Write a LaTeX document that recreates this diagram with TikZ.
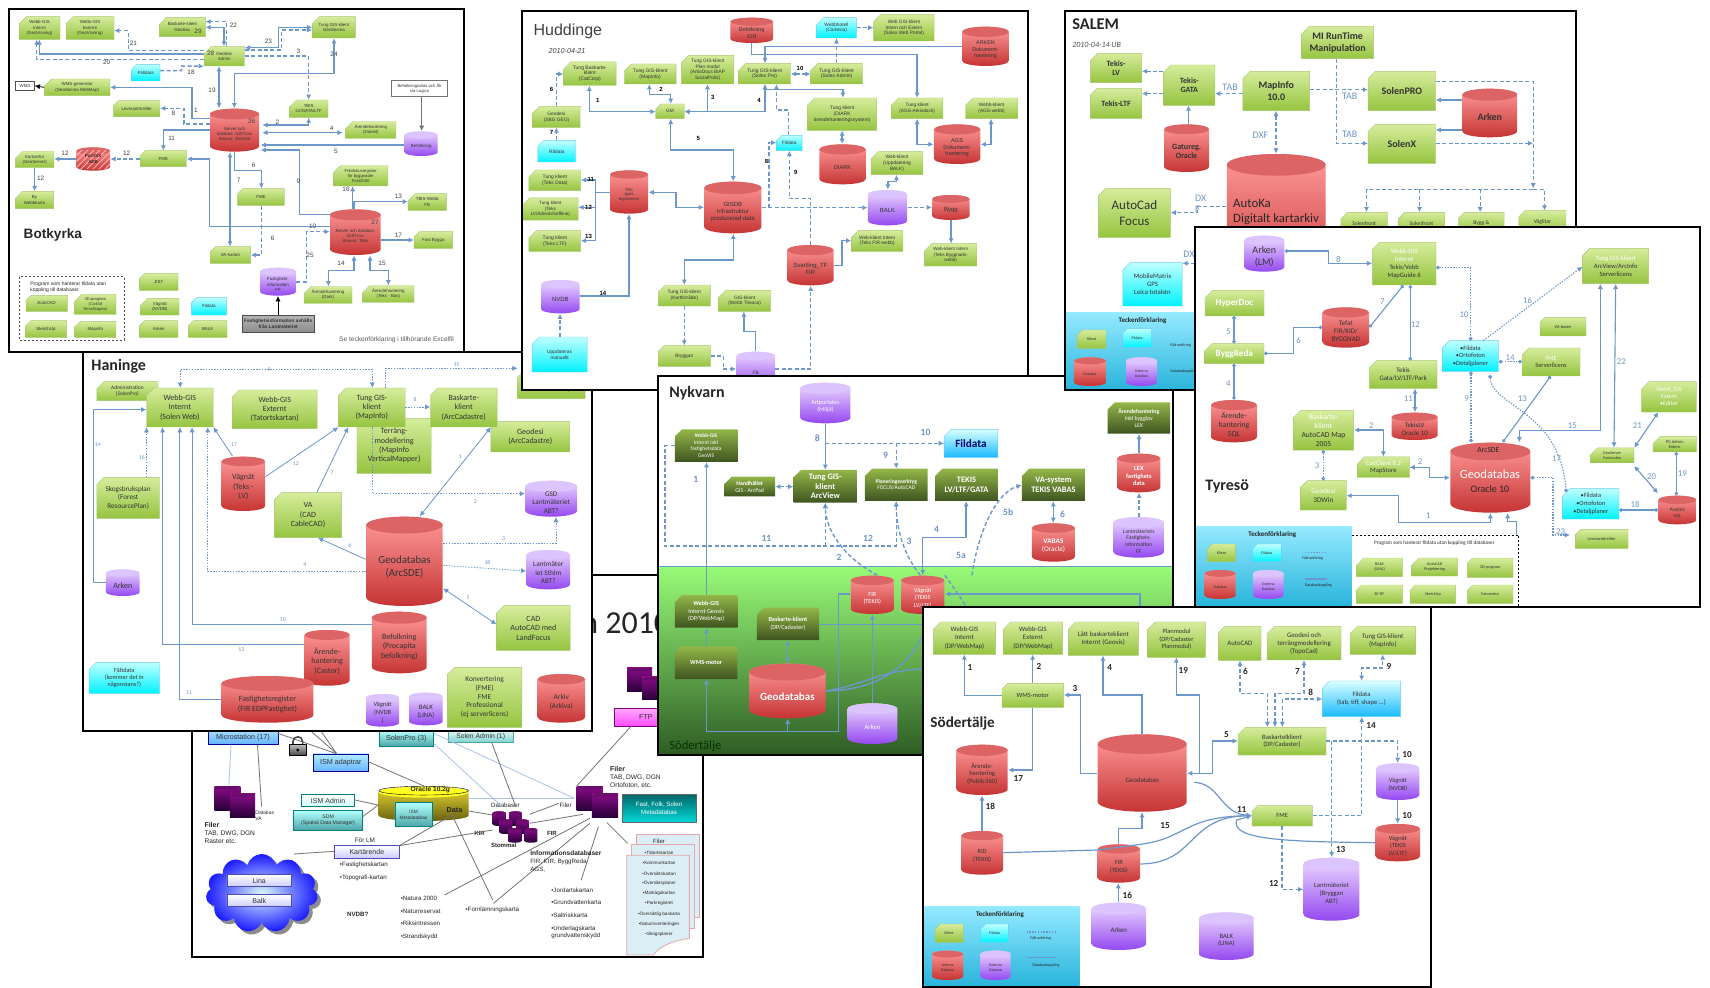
\documentclass[tikz,border=0pt]{standalone}
\usepackage{fontspec}
\setmainfont{Carlito}
\newfontfamily\arial{Liberation Sans}
\usetikzlibrary{shapes.misc,shapes.geometric,shapes.symbols,arrows.meta,patterns}
\definecolor{gtop}{HTML}{D6EC9C}\definecolor{gbot}{HTML}{95C440}\definecolor{gedge}{HTML}{A8C870}
\definecolor{rtop}{HTML}{FF9A9A}\definecolor{rbot}{HTML}{C63434}\definecolor{rcap}{HTML}{DC6464}
\definecolor{ptop}{HTML}{EEDCFF}\definecolor{pbot}{HTML}{9448F0}\definecolor{pcap}{HTML}{DCC4FF}
\definecolor{ytop}{HTML}{E8D830}\definecolor{ybot}{HTML}{6A6010}\definecolor{ycap}{HTML}{FFFF20}
\definecolor{dtop}{HTML}{8A0C8A}\definecolor{dbot}{HTML}{280036}\definecolor{dcap}{HTML}{6A0C6A}
\definecolor{link}{HTML}{6C97CB}\definecolor{numc}{HTML}{6F95C5}
\definecolor{dgtop}{HTML}{94B648}\definecolor{dgbot}{HTML}{3E5420}
\definecolor{lgtop}{HTML}{94EAFF}\definecolor{lgbot}{HTML}{2AB4DC}
\definecolor{nytop}{HTML}{98FB78}\definecolor{nybot}{HTML}{2E5C24}
\definecolor{ltblue}{HTML}{A8C4E8}\definecolor{docf}{HTML}{DCEEF5}\definecolor{doce}{HTML}{E4A8A8}
\newcommand\fs[1]{\fontsize{#1pt}{\the\dimexpr #1pt*118/100\relax}\selectfont}
\newcommand\wh[1]{\textcolor{white}{#1}}
\newcounter{tn}
\def\pf{}\def\cytx{black!80}\def\lw{0.7pt}\def\nfs{3.5}\def\ncol{black}\def\nser{}
\newcommand\pnl[4]{\begin{scope}[shift={(#1*0.5pt,-#2*0.5pt)},x=#3pt,y=-#4pt]\def\kxx{#3}\def\kyy{#4}}
\newcommand\bx[8]{%
 \pgfmathsetmacro\wA{abs(#5-#3)*\kxx}\pgfmathsetmacro\hA{abs(#6-#4)*\kyy}%
 \pgfmathsetmacro\cxA{(#3+#5)/2}\pgfmathsetmacro\cyA{(#4+#6)/2}%
 \node[#1,minimum width=\wA pt,minimum height=\hA pt,font=\pf\fs{#7}] (#2) at (\cxA,\cyA) {#8};}
\newcommand\cyb[5]{%
 \pgfmathsetmacro\rxA{abs(#4-#2)*\kxx/2}%
 \pgfmathsetmacro\ryA{min(\rxA*0.22,abs(#5-#3)*\kyy*.16)}%
 \pgfmathsetmacro\dyA{\ryA/\kyy}%
 \pgfmathsetmacro\ytA{#3+\dyA}\pgfmathsetmacro\ybA{#5-\dyA}%
 \pgfmathsetmacro\cxA{(#2+#4)/2}\pgfmathsetmacro\cyA{(#3+#5)/2}%
 \pgfmathsetmacro\wA{abs(#4-#2)*\kxx}\pgfmathsetmacro\hA{abs(#5-#3)*\kyy}%
 \path[top color=#1top,bottom color=#1bot] (#2,\ytA) -- (#2,\ybA) arc[start angle=180,end angle=360,x radius=\rxA pt,y radius=\ryA pt] -- (#4,\ytA) arc[start angle=0,end angle=180,x radius=\rxA pt,y radius=\ryA pt] -- cycle;
 \path[fill=#1cap] (\cxA,\ytA) ellipse[x radius=\rxA pt,y radius=\ryA pt];}
\newcommand\cy[8]{\cyb{#1}{#3}{#4}{#5}{#6}%
 \node[minimum width=\wA pt,minimum height=\hA pt,inner sep=0pt] (#2) at (\cxA,\cyA) {};%
 \pgfmathsetmacro\ctA{\cyA+\dyA*.7}\stepcounter{tn}%
 \node[inner sep=0pt,align=center,font=\pf\fs{#7},text=\cytx] (t\arabic{tn}) at (\cxA,\ctA) {#8};}
\newcommand\tx[5][center]{\stepcounter{tn}\node[anchor=#1,inner sep=0pt,align=left,font=\pf\fs{#4},text=black!85] (t\arabic{tn}) at (#2,#3) {#5};}
\newcommand\nm[3]{\stepcounter{tn}\node[inner sep=0pt,font=\pf\nser\fs{\nfs},text=\ncol] (t\arabic{tn}) at (#1,#2) {#3};}
\newcommand\srv[4]{\path[top color=dtop,bottom color=dbot] (#1,#2) rectangle (#3,#4);
 \path[fill=dcap] (#1,#2+10) -- (#1+10,#2) -- (#3,#2) -- (#3-10,#2+10) -- cycle;}
\tikzset{
 >={Latex[length=2.6pt,width=2.6pt]},
 base/.style={inner sep=0pt,align=center,draw=gedge,line width=.2pt,text=black!80},
 gbx/.style={base,chamfered rectangle,chamfered rectangle corners=north west,chamfered rectangle sep=1.8pt,top color=gtop,bottom color=gbot},
 cbx/.style={gbx,draw=cyan!60,top color=cyan!25,bottom color=cyan!95!blue},
 bbx/.style={gbx,draw=cyan!60,top color=cyan!15,bottom color=cyan!70!blue!90},
 dgb/.style={gbx,draw=none,top color=dgtop,bottom color=dgbot,text=white},
 wbx/.style={base,rectangle},
 lk/.style={draw=link,line width=\lw},
 ld/.style={lk,dash pattern=on 2pt off 1.2pt},
 lp/.style={lk,dash pattern=on .7pt off .7pt},
 cc/.style={arrows={Circle[length=1.8pt]-Circle[length=1.8pt]}},
 frm/.style={draw=black,line width=1pt},
 ovl/.style={draw=black!55,line width=.4pt},
 ovb/.style={draw=ltblue,line width=.4pt},
 osb/.style={wbx,draw=blue!60!black,top color=blue!25!cyan!30,bottom color=blue!50!cyan!60},
 ost/.style={wbx,draw=teal,top color=cyan!30,bottom color=teal!70},
 osw/.style={wbx,draw=blue!40!gray,top color=white,bottom color=blue!20},
 leg/.style={rectangle,inner sep=0pt,top color=lgtop,bottom color=lgbot},
}
\begin{document}
\begin{tikzpicture}
\useasboundingbox (0,0) rectangle (855pt,-494pt);
\fill[white] (0,0) rectangle (855pt,-494pt);

%% ---------- overview panel (back) ----------
\pnl{180}{700}{0.17219}{0.16667}
\def\pf{\arial}
\filldraw[fill=white,frm] (35,-375) rectangle (1520,770);
\stepcounter{tn}\node[anchor=west,inner sep=0pt,font=\fs{16},text=black!85] (ovtitle) at (1164,-231) {n 2010};
\srv{1298}{-96}{1371}{-24}\srv{1342}{-69}{1400}{0}
\bx{wbx,draw=violet,top color=magenta!35,bottom color=magenta!70}{ovftp}{1262}{26}{1444}{78}{3.6}{FTP}
\bx{osb}{ovms}{82}{80}{284}{133}{3.6}{\raisebox{-5pt}{Microstation (17)}}
\bx{ost}{ovsp}{578}{92}{736}{138}{3.6}{SolenPro (3)}
\bx{wbx,draw=teal!70,top color=white,bottom color=cyan!30!teal!50}{ovsa}{778}{81}{968}{127}{3.4}{\raisebox{-5pt}{Solen Admin (1)}}
\bx{osb}{ovia}{388}{162}{546}{214}{3.6}{ISM adaptrar}
\draw[ovl] (ovms.east |- 0,100) -- (ovia.north -| 455,0);
\draw[ovl] (ovms.north -| 365,0) -- (ovia.north -| 455,0);
\draw[ovl] (ovms.north -| 400,0) -- (ovia.north -| 455,0);
\draw[ovb] (ovms.south -| 148,0) -- (142,255);
\draw[ovl] (ovms.south -| 225,0) -- (237,320);
% lock
\draw[black!70,line width=.8pt] (328,135) -- (328,124) .. controls (328,106) and (356,106) .. (356,124) -- (356,135);
\path[draw=black,top color=black!25,bottom color=black!70] (318,133) rectangle (366,165);
\fill[black] (342,150) circle[radius=5];
\srv{100}{258}{175}{330}\srv{145}{280}{218}{352}
\cy{y}{ovora}{577}{260}{838}{363}{3.4}{}
\draw[black,line width=.2pt] (707.5,272) ellipse[x radius=22.4pt,y radius=2.2pt];
\tx{727}{268}{3.3}{\textbf{Oracle 10.2g}}
\tx{797}{330}{3.6}{\textbf{Data}}
\bx{ost}{ovim}{624}{308}{732}{380}{2.4}{ISM\\Metadatabas}
\bx{wbx,draw=teal,top color=white,bottom color=cyan!20,line width=.4pt}{ovad}{353}{284}{507}{319}{3.5}{ISM Admin}
\bx{ost}{ovsd}{330}{332}{530}{390}{2.6}{SDM\\(Spatial Data Manager)}
\bx{osw}{ovka}{449}{437}{636}{474}{3.5}{Kartärende}
\tx{537}{420}{3.2}{För LM}
\tx{246}{346}{2.5}{Databas\\VA}
\tx[west]{70}{374}{3.5}{\textbf{Filer}}
\tx[west]{70}{412}{3.3}{TAB, DWG, DGN\\Raster etc.}
\draw[ovl] (ovka.west |- 0,454) -- (330,462);
\bx{cloud,cloud puffs=11,aspect=1.4,inner sep=0pt,fill=black!45}{ovcs}{85}{472}{410}{708}{3}{}
\bx{cloud,cloud puffs=11,aspect=1.4,inner sep=0pt,inner color=blue!20!cyan!15,outer color=blue!90}{ovcl}{75}{462}{400}{698}{3}{}
\bx{osw}{ovli}{136}{523}{324}{560}{3.5}{Lina}
\bx{osw}{ovba}{136}{584}{324}{620}{3.5}{Balk}
\tx[west]{463}{496}{3.1}{•Fastighetskartan}
\tx[west]{463}{535}{3.1}{•Topografi-kartan}
\tx[west]{484}{644}{3.1}{\textbf{NVDB?}}
\tx[west]{640}{594}{3.1}{•Natura 2000}
\tx[west]{640}{633}{3.1}{•Naturreservat}
\tx[west]{640}{671}{3.1}{•Riksintressen}
\tx[west]{640}{710}{3.1}{•Strandskydd}
\tx[west]{828}{631}{3.1}{•Fornlämningskarta}
\tx{945}{315}{3.1}{Databaser}
\tx{1120}{315}{3.1}{Filer}
\tx{870}{399}{3}{\textbf{KIR}}
\tx{1080}{399}{3}{\textbf{FIR}}
\tx{940}{435}{3}{\textbf{Stommal}}
\cy{d}{ovd1}{908}{334}{946}{378}{2}{}\cy{d}{ovd2}{955}{334}{993}{378}{2}{}
\cy{d}{ovd3}{927}{358}{965}{402}{2}{}\cy{d}{ovd4}{975}{358}{1013}{402}{2}{}
\cy{d}{ovd5}{953}{384}{991}{428}{2}{}\cy{d}{ovd6}{1000}{384}{1038}{428}{2}{}
\srv{1152}{258}{1228}{330}\srv{1196}{280}{1272}{352}
\draw[ovl] (ovora.north -| 710,0) -- (ovia.east |- 0,185);
\draw[ovl] (ovad.east |- 0,300) -- (ovora.west |- 0,315);
\draw[ovl] (ovsd.east |- 0,350) -- (ovora.west |- 0,315);
\draw[ovb] (ovora.east |- 0,295) -- (1145,295);
\draw[ovb] (ovsp.east |- 0,100) -- (1145,295);
\draw[ovb] (ovsp.east |- 0,130) -- (935,320);
\draw[ovl] (ovsa.south -| 905,0) -- (975,320);
\draw[ovl] (ovora.east |- 0,333) -- (ovd1.west |- 0,345);
\draw[ovl] (1015,343) -- (1100,310);
\draw[ovl] (1015,370) -- (1170,343);
\draw[ovl] (1152,258) -- (ovftp.south -| 1310,0);
\draw[ovl] (ovka.east |- 0,437) -- (908,390);
\draw[ovl] (ovka.east |- 0,437) -- (790,345) -- (908,600);
\draw[ovl] (1190,355) -- (768,585);
\draw[ovl] (910,610) -- (1190,370);
\draw[ovl] (1215,380) -- (1165,540);
\draw[ovl] (1240,368) -- (1300,430);
\tx[west]{1016}{459}{3.3}{\textbf{Informationsdatabaser}}
\tx[west]{1016}{497}{3.1}{FIR, KIR, ByggReda\\AGS,}
\tx[west]{1077}{570}{3.1}{•Jordartskartan}
\tx[west]{1077}{608}{3.1}{•Grundvattenkarta}
\tx[west]{1077}{647}{3.1}{•Saltriskkarta}
\tx[west]{1077}{698}{3.1}{•Underlagskarta\\grundvattenskydd}
\tx[west]{1248}{207}{3.5}{\textbf{Filer}}
\tx[west]{1248}{245}{3.3}{TAB, DWG, DGN\\Ortofoton, etc.}
\bx{wbx,draw=black!60,top color=teal!80!black,bottom color=cyan!70!teal}{ovfp}{1284}{282}{1498}{367}{3.1}{\wh{Fast, Folk, Solen}\\\wh{Metadatabas}}
\filldraw[fill=docf,draw=doce] (1325,403) rectangle (1507,652);
\filldraw[fill=docf,draw=doce] (1311,433) rectangle (1493,685);
\filldraw[fill=docf,draw=doce] (1297,466) -- (1479,466) -- (1479,715) .. controls (1430,722) and (1390,740) .. (1375,765) -- (1297,765) -- cycle;
\tx{1391}{424}{3}{Filer}
\tx{1391}{460}{2.3}{•Tätortskartan}
\tx{1391}{490}{2.3}{•Kommunkartan}
\tx{1391}{520}{2.3}{•Översiktskartan}
\tx{1391}{550}{2.3}{•Översiktsplaner}
\tx{1391}{581}{2.3}{•Markägokartan}
\tx{1391}{611}{2.3}{•Parkregistret}
\tx{1391}{642}{2.3}{•Översiktlig baskarta}
\tx{1391}{672}{2.3}{•Naturinventeringen}
\tx{1391}{703}{2.3}{•Skogsplaner}
\draw[frm] (35,-375) rectangle (1520,770);
\def\pf{}
\end{scope}

%% ---------- Haninge ----------
\pnl{70}{340}{0.19133}{0.16667}
\def\lw{.4pt}\def\nfs{2.9}\def\ncol{numc}
\filldraw[fill=white,frm] (35,37) rectangle (1365,1172);
\tx[west]{55}{80}{8}{\textbf{Haninge}}
\bx{gbx}{ha1a}{1170}{90}{1346}{176}{3.5}{\raisebox{-8pt}{1 användare)}}
\bx{gbx}{ha01}{70}{125}{230}{182}{2.7}{Administration\\(SolenPro)}
\bx{gbx}{ha02}{200}{144}{374}{261}{4}{Webb-GIS\\Internt\\(Solen Web)}
\bx{gbx}{ha03}{424}{150}{646}{266}{4}{Webb-GIS\\Externt\\(Tatortskartan)}
\bx{gbx}{ha05}{750}{235}{944}{400}{4}{Terräng-\\modellering\\(MapInfo\\VerticalMapper)}
\bx{gbx}{ha04}{702}{144}{876}{261}{4}{Tung GIS-\\klient\\(MapInfo)}
\bx{gbx}{ha07}{1100}{244}{1306}{336}{4}{Geodesi\\(ArcCadastre)}
\bx{gbx}{ha06}{942}{144}{1116}{261}{4}{Baskarte-\\klient\\(ArcCadastre)}
\bx{gbx}{ha08}{70}{412}{234}{535}{3.6}{Skogsbruksplan\\(Forest\\ResourcePlan)}
\bx{gbx}{ha09}{534}{458}{710}{593}{4}{VA\\(CAD\\CableCAD)}
\cy{r}{ha10}{396}{350}{510}{513}{4}{Vägnät\\(Teks -\\LV)}
\cy{r}{ha11}{774}{530}{974}{798}{5.4}{Geodatabas\\(ArcSDE)}
\cy{p}{ha12}{1190}{422}{1325}{530}{3.6}{GSD\\Lantmäteriet\\ABT?}
\cy{p}{ha13}{1193}{630}{1307}{748}{3.6}{Lantmäter\\iet Sthlm\\ABT?}
\cy{p}{ha14}{94}{688}{182}{768}{4}{Arken}
\bx{gbx}{ha15}{1115}{797}{1307}{931}{4}{CAD\\AutoCAD med\\LandFocus}
\cy{r}{ha16}{789}{815}{932}{1000}{4}{Befolkning\\(Procapita\\befolkning)}
\cy{r}{ha17}{613}{870}{731}{1037}{4}{Ärende-\\hantering\\(Castor)}
\bx{cbx}{ha18}{50}{967}{234}{1060}{3.1}{Fältdata\\(kommer det in\\någonstans?)}
\cy{r}{ha19}{396}{1008}{636}{1148}{4}{Fastighetsregister\\(FIR EDPFastighet)}
\cy{p}{ha20}{774}{1062}{860}{1160}{3.2}{Vägnät\\(NVDB\\)}
\cy{p}{ha21}{886}{1058}{974}{1156}{3.4}{BALK\\(LINA)}
\bx{gbx}{ha22}{986}{982}{1181}{1162}{3.7}{Konvertering\\(FME)\\FME\\Professional\\(ej serverlicens)}
\cy{r}{ha23}{1222}{1002}{1346}{1148}{3.7}{Arkiv\\(Arkiva)}
\draw[lp,<->] (ha02.north -| 288,0) -- (288,88) -- (790,88) -- (ha04.north -| 790,0);
\draw[lp,->] (ha04.north -| 824,0) -- (824,85) -- (ha1a.west |- 0,85);
\draw[lp,->] (ha04.east |- 0,201) -- (ha06.west |- 0,201);
\draw[lk,->] (ha14.west |- 0,727) -- (60,727) -- (60,209) -- (ha02.west |- 0,209);
\draw[lp,->] (ha08.north -| 200,0) -- (ha02.south -| 200,0);
\draw[lk,->] (ha17.west |- 0,912) -- (242,912) -- (ha02.south -| 242,0);
\draw[lk,->] (ha19.west |- 0,1078) -- (287,1078) -- (ha02.south -| 287,0);
\draw[lk,->] (ha16.west |- 0,853) -- (319,853) -- (ha02.south -| 319,0);
\draw[lp,->] (ha11.west |- 0,694) -- (360,694) -- (ha02.south -| 360,0);
\draw[lk,->] (ha10.north -| 425,0) -- (ha02.south east);
\draw[lk,->] (ha10.east |- 0,410) -- (ha04.south west);
\draw[lk,->] (ha09.north -| 645,0) -- (ha04.south -| 727,0);
\draw[lk,<->] (ha11.north -| 914,0) -- (ha06.south -| 1100,0);
\draw[lp,->] (ha04.south -| 790,0) -- (790,461) -- (ha12.west |- 0,461);
\draw[lp,->] (ha11.east |- 0,610) -- (1270,610) -- (ha12.south -| 1270,0);
\draw[lp,->] (ha11.east |- 0,676) -- (ha13.west |- 0,693);
\draw[lk,->] (ha11.west |- 0,658) -- (ha09.south -| 648,0);
\draw[lk,<->] (ha11.east |- 0,745) -- (ha15.west |- 0,853);
\nm{520}{88}{9}\nm{1010}{73}{15}\nm{902}{178}{8}\nm{73}{315}{14}\nm{188}{353}{16}\nm{448}{929}{13}\nm{311}{1057}{11}\nm{556}{838}{10}\nm{614}{673}{4}\nm{429}{315}{17}\nm{590}{370}{12}\nm{684}{397}{7}\nm{1020}{350}{1}\nm{1059}{484}{2}\nm{1133}{597}{3}\nm{1091}{667}{18}\nm{731}{617}{6}\nm{1040}{773}{5}
\draw[frm] (35,37) rectangle (1365,1172);
\end{scope}

%% ---------- Botkyrka ----------
\pnl{0}{0}{0.16667}{0.16667}
\def\pf{\arial}\def\lw{.75pt}\def\nfs{3.2}\def\ncol{black!75}
\filldraw[fill=white,frm] (27,28) rectangle (1393,1055);
\tx[west]{70}{705}{6.8}{\textbf{Botkyrka}}
\tx[east]{1363}{1018}{3.3}{\textcolor{black!65}{Se teckenförklaring i tillhörande Excelfil}}
\bx{gbx}{bk01}{57}{50}{180}{118}{2.2}{Webb-GIS\\Internt\\(GeoVisning)}
\bx{gbx}{bk02}{198}{50}{342}{118}{2.2}{Webb-GIS\\Externt\\(GeoVisning)}
\bx{gbx}{bk03}{478}{52}{616}{110}{2.2}{Baskarte-klient\\GeoSec}
\bx{gbx}{bk04}{937}{50}{1066}{114}{2.2}{Tung GIS-klient\\GeoSecma}
\bx{gbx}{bk05}{612}{140}{734}{198}{2.2}{GeoSec\\Admin}
\bx{cbx}{bk06}{395}{193}{480}{243}{2.2}{Fältdata}
\bx{gbx}{bk07}{133}{237}{330}{287}{2.2}{WMS-generator\\(GeoSecma WebMap)}
\bx{wbx,draw=black!70,line width=.4pt,fill=white}{bk08}{47}{243}{103}{272}{2.2}{WMS}
\bx{gbx}{bk09}{340}{302}{480}{350}{2.2}{Leverantörsfiler}
\bx{gbx}{bk10}{868}{300}{984}{352}{2.2}{TBIS\\LV/GATA/LTF}
\bx{gbx}{bk11}{1037}{365}{1188}{415}{2.2}{Ärendehantering\\(Daniel)}
\bx{wbx,draw=black!55,line width=.5pt,fill=white}{bk12}{1175}{241}{1342}{290}{2.1}{Befolkningsdata och Åk\\via Logica}
\cy{p}{bk13}{1214}{394}{1313}{468}{2.2}{Befolkning}
\cy{r}{bk14}{630}{326}{777}{455}{2.2}{Server och\\databas: GISTxxx\\Ansvar: ÄxxGIS}
\bx{gbx}{bk15}{420}{452}{560}{500}{2.2}{FME}
\cyb{r}{229}{442}{330}{512}
\path[pattern=north east lines,pattern color=white!70!red] (229,452) rectangle (330,505);
\node[minimum width=\wA pt,minimum height=\hA pt,inner sep=0pt,align=center,font=\pf\fs{2.2}] (bk16) at (\cxA,\cyA) {PostGIS\\ADB};
\bx{gbx}{bk17}{46}{455}{162}{502}{2.2}{Kartserfor\\(GeoServer)}
\bx{gbx}{bk18}{46}{574}{161}{626}{2.2}{By\\Webbkarta}
\bx{gbx}{bk19}{713}{566}{853}{616}{2.2}{FME}
\bx{gbx}{bk20}{631}{740}{752}{790}{2.2}{VA-kartan}
\bx{gbx}{bk21}{1000}{500}{1164}{555}{2.1}{Fritidshusregister\\för byggnader\\Fast2000}
\bx{gbx}{bk22}{1224}{581}{1339}{631}{2.2}{TBIS-Webb\\FB}
\cy{r}{bk23}{990}{628}{1142}{765}{2.2}{Server och databas:\\GISTxxx\\Ansvar: Teks}
\bx{gbx}{bk24}{1242}{695}{1358}{745}{2.2}{Fast Bygga}
\cy{p}{bk25}{780}{803}{888}{887}{2.2}{Fastighets-\\information\\FF}
\bx{gbx}{bk26}{912}{860}{1056}{910}{2.2}{Ärendehantering\\(Dark)}
\bx{gbx}{bk27}{1088}{857}{1242}{907}{2.2}{Ärendehantering\\(Teks - Bas)}
\bx{wbx,draw=black!70,line width=.4pt,top color=black!30,bottom color=black!45}{bk28}{727}{947}{942}{996}{2.4}{\textbf{Fastighetsinformation avhålls}\\\textbf{från Lantmäteriet}}
\draw[black!70,line width=.3pt,dash pattern=on 1pt off 1pt] (58,830) rectangle (372,1020);
\tx[west]{90}{861}{2.5}{Program som hanterar fildata utan\\koppling till databaser}
\bx{gbx}{bk29}{78}{886}{202}{934}{2.2}{AutoCAD}
\bx{gbx}{bk30}{224}{886}{348}{940}{2}{3D-program\\(Civil3d\\TerraScapes)}
\bx{gbx}{bk31}{76}{962}{200}{1012}{2.2}{SketchUp}
\bx{gbx}{bk32}{224}{964}{348}{1012}{2.2}{Mapinfo}
\bx{gbx}{bk33}{418}{821}{534}{871}{2.2}{JIST}
\bx{gbx}{bk34}{422}{895}{537}{945}{2.2}{Vägnät\\(NVDB)}
\bx{cbx}{bk35}{574}{893}{680}{945}{2.2}{Fildata}
\bx{gbx}{bk36}{418}{962}{534}{1012}{2.2}{Arken}
\bx{gbx}{bk37}{565}{962}{681}{1012}{2.2}{BALK}
\draw[lk,->] (bk05.west |- 0,162) -- (118,162) -- (bk01.south -| 118,0);
\draw[ld,->] (bk05.west |- 0,178) -- (110,178) -- (bk01.south -| 110,0);
\draw[ld,->] (bk05.west |- 0,152) -- (385,152) -- (385,92) -- (bk02.east |- 0,92);
\draw[lk,<->] (bk05.north -| 672,0) -- (672,82) -- (bk03.east |- 0,82);
\draw[ld,->] (bk05.north -| 680,0) -- (680,65) -- (bk03.east |- 0,65);
\draw[lk,<->] (bk05.east |- 0,143) -- (835,143) -- (835,82) -- (bk04.west |- 0,82);
\draw[ld,->] (bk05.east |- 0,150) -- (845,150) -- (845,90) -- (bk04.west |- 0,90);
\draw[ld,->] (bk05.east |- 0,168) -- (926,168) -- (bk10.north -| 926,0);
\draw[ld,->] (bk06.east |- 0,212) -- (545,212) -- (545,198) -- (bk05.south west);
\draw[lk,<->] (bk14.north -| 657,0) -- (bk05.south -| 657,0);
\draw[lk,<->] (bk14.north -| 703,0) -- (703,220) -- (1002,220) -- (bk04.south -| 1002,0);
\draw[lk,->] (bk14.west |- 0,356) -- (576,356) -- (576,262) -- (bk07.east |- 0,262);
\draw[ld,->] (bk14.west |- 0,372) -- (552,372) -- (552,325) -- (bk09.east |- 0,325);
\draw[black,line width=.4pt,->] (bk07.west) -- (bk08.east);
\draw[lk,<->] (787,375) -- (926,375) -- (bk10.south -| 926,0);
\draw[lk,<->] (787,398) -- (1028,398);
\draw[lk,->] (bk13.west |- 0,435) -- (782,435);
\draw[black!55,line width=.5pt,->] (bk12.south -| 1265,0) -- (bk13.north -| 1265,0);
\draw[lk,->] (bk14.west |- 0,390) -- (490,390) -- (bk15.north -| 490,0);
\draw[ld,->] (bk15.west |- 0,477) -- (bk16.east |- 0,477);
\draw[lk,->] (bk16.west |- 0,477) -- (bk17.east |- 0,477);
\draw[lk,->] (bk17.south -| 104,0) -- (bk18.north -| 104,0);
\draw[lk,->] (bk14.south -| 703,0) -- (703,512) -- (784,512) -- (bk19.north -| 784,0);
\draw[lk,<->] (bk14.south -| 690,0) -- (bk20.north -| 690,0);
\draw[ld,->] (bk19.south -| 784,0) -- (784,765) -- (bk20.east |- 0,765);
\draw[lk,->] (bk23.west |- 0,680) -- (628,680) -- (628,477) -- (bk15.east |- 0,477);
\draw[lk,->] (bk23.west |- 0,643) -- (899,643) -- (899,450) -- (782,450);
\draw[lk,->] (bk23.north -| 1062,0) -- (1062,605) -- (bk22.west |- 0,605);
\draw[lk,->] (bk23.north -| 1058,0) -- (bk21.south -| 1058,0);
\draw[lk,->] (bk23.east |- 0,720) -- (bk24.west |- 0,720);
\draw[ld,->] (bk25.east |- 0,846) -- (920,846) -- (920,695) -- (bk23.west |- 0,695);
\draw[lk,<->] (bk26.north -| 985,0) -- (985,812) -- (1062,812) -- (bk23.south -| 1062,0);
\draw[lk,<->] (bk27.north -| 1165,0) -- (1165,812) -- (1110,812) -- (bk23.south -| 1110,0);
\draw[black,line width=.4pt,->] (bk28.north -| 834,0) -- (bk25.south -| 834,0);
\nm{400}{131}{21}\nm{700}{76}{22}\nm{805}{125}{23}\nm{895}{155}{3}\nm{320}{188}{20}\nm{573}{217}{18}\nm{636}{271}{19}\nm{1002}{162}{24}\nm{588}{331}{1}\nm{520}{341}{8}\nm{832}{366}{2}\nm{995}{385}{4}\nm{1008}{453}{5}\nm{515}{414}{11}\nm{195}{461}{12}\nm{380}{461}{12}\nm{122}{535}{12}\nm{761}{496}{6}\nm{716}{540}{7}\nm{818}{715}{6}\nm{938}{680}{10}\nm{895}{545}{9}\nm{1195}{589}{13}\nm{1038}{569}{16}\nm{1195}{705}{17}\nm{930}{765}{25}\nm{1023}{789}{14}\nm{1146}{789}{15}\nm{755}{365}{26}\nm{1125}{668}{27}\nm{632}{160}{28}\nm{594}{95}{29}
\draw[frm] (27,28) rectangle (1393,1055);
\def\pf{}
\end{scope}

%% ---------- Huddinge ----------
\pnl{510}{0}{0.17857}{0.16667}
\def\pf{\arial}\def\lw{.7pt}\def\nfs{3}\def\ncol{black}\def\nser{\bfseries}
\filldraw[fill=white,frm] (33,32) rectangle (1450,1170);
\tx[west]{65}{95}{8}{\textcolor{black!75}{Huddinge}}
\tx[west]{107}{152}{3.6}{\textcolor{black!75}{\itshape 2010-04-21}}
\bx{gbx}{hu01}{150}{190}{297}{252}{2.5}{Tung Baskarte-\\klient\\(CatCorp)}
\bx{gbx}{hu02}{320}{192}{465}{252}{2.5}{Tung GIS-klient\\(MapInfo)}
\bx{gbx}{hu03}{480}{166}{627}{252}{2.4}{Tung GIS-klient\\Plan modul\\(ArtioDocs BIAP\\SocialPolis)}
\bx{gbx}{hu04}{640}{190}{786}{252}{2.5}{Tung GIS-klient\\(Solex Pro)}
\bx{gbx}{hu05}{842}{190}{987}{252}{2.5}{Tung GIS-klient\\(Solex Admin)}
\bx{gbx}{hu06}{1018}{44}{1188}{123}{2.4}{Web GIS-klient\\Intern och Extern\\(Solex Web Portal)}
\bx{cbx}{hu07}{858}{53}{970}{114}{2.4}{Webbhotell\\(Cartesia)}
\cy{r}{hu08}{617}{53}{737}{129}{2.7}{Befolkning\\IGR}
\cy{r}{hu09}{1266}{80}{1397}{198}{2.7}{ARKEN\\Dokument-\\hantering}
\bx{gbx}{hu10}{62}{320}{198}{382}{2.4}{Geodesi\\(SBG GEO)}
\bx{cbx}{hu11}{78}{422}{184}{486}{2.4}{Rådata}
\bx{gbx}{hu12}{408}{312}{488}{356}{2.4}{GM}
\bx{gbx}{hu13}{833}{294}{1027}{391}{2.5}{Tung klient\\(DIARK\\ärendehanteringssystem)}
\bx{gbx}{hu14}{1068}{294}{1212}{356}{2.4}{Tung klient\\(AGS-Arkivdock)}
\bx{gbx}{hu15}{1276}{294}{1421}{356}{2.4}{Webb-klient\\(AGS-webb)}
\bx{cbx}{hu16}{746}{406}{818}{452}{2.4}{Fildata}
\cy{r}{hu17}{866}{433}{996}{553}{2.8}{DIARK}
\cy{r}{hu18}{1187}{373}{1317}{492}{2.8}{AGS\\Dokument-\\hantering}
\bx{gbx}{hu19}{1011}{458}{1156}{521}{2.4}{Web-klient\\(Uppdatering\\BALK)}
\bx{gbx}{hu20}{53}{510}{198}{572}{2.5}{Tung klient\\(Teks Data)}
\bx{gbx}{hu21}{35}{596}{191}{658}{2.3}{Tung klient\\(Teks\\LV/Adresb/Soffline)}
\bx{gbx}{hu22}{53}{692}{198}{754}{2.5}{Tung klient\\(Teks LTF)}
\cy{r}{hu23}{280}{511}{387}{641}{2}{TEK\\(gata\\registreren)}
\cy{r}{hu24}{544}{545}{704}{700}{3}{GISDB\\Infrastruktur\\producerad data}
\cy{p}{hu25}{1002}{570}{1112}{676}{3}{BALK}
\cy{r}{hu26}{1182}{585}{1287}{660}{3}{Bygg}
\bx{gbx}{hu27}{956}{691}{1100}{754}{2.4}{Web-klient Intern\\(Teks FIR-webb)}
\cy{r}{hu28}{776}{735}{906}{856}{3}{Svartling\_TF\\FIR}
\bx{gbx}{hu29}{1161}{733}{1307}{796}{2.3}{Web-klient Intern\\(Teks Byggnads-\\webb)}
\cy{p}{hu30}{87}{840}{195}{940}{3}{NVDB}
\bx{cbx}{hu31}{62}{1011}{216}{1116}{2.4}{Uppdateras\\manuellt}
\bx{gbx}{hu32}{415}{855}{561}{918}{2.4}{Tung GIS-klient\\(Kartförråde)}
\bx{gbx}{hu33}{584}{871}{730}{934}{2.4}{GIS-klient\\(Webb Trisoca)}
\bx{gbx}{hu34}{415}{1037}{561}{1099}{2.4}{Bryggan}
\cy{p}{hu35}{634}{1055}{742}{1165}{2.4}{FB}
\draw[lk,<->] (hu01.south -| 222,0) -- (222,335) -- (hu12.west |- 0,335);
\draw[lk,<->] (hu02.south -| 390,0) -- (390,283) -- (450,283) -- (hu12.north -| 450,0);
\draw[lk,<->] (hu03.south -| 553,0) -- (553,335) -- (hu12.east |- 0,335);
\draw[lk,<->] (hu04.south -| 714,0) -- (714,335) -- (hu12.east |- 0,335);
\draw[lk,<->] (hu12.south -| 450,0) -- (450,450) -- (625,450) -- (hu24.north -| 625,0);
\draw[lk,<->] (hu04.south -| 714,0) -- (714,268) -- (932,268) -- (hu13.north -| 932,0);
\draw[ld,->] (hu16.north -| 780,0) -- (780,330) -- (746,330) -- (hu04.south -| 746,0);
\draw[ld,<->] (hu04.east |- 0,222) -- (hu05.west |- 0,222);
\draw[ld,->] (hu05.north -| 914,0) -- (hu07.south -| 914,0);
\draw[ld,->] (hu07.east |- 0,83) -- (hu06.west |- 0,83);
\draw[lk,->] (hu08.south -| 677,0) -- (677,163) -- (1140,163) -- (hu14.north -| 1140,0);
\draw[lk,->] (hu09.west |- 0,140) -- (714,140) -- (hu04.north -| 714,0);
\draw[ld,->] (hu10.north -| 130,0) -- (130,222) -- (hu01.west |- 0,222);
\draw[ld,->] (hu11.north -| 130,0) -- (hu10.south -| 130,0);
\draw[lk,<->] (hu13.south -| 930,0) -- (hu17.north -| 930,0);
\draw[lk,<->] (hu14.south -| 1140,0) -- (1140,433) -- (hu18.west |- 0,433);
\draw[lk,<->] (hu15.south -| 1347,0) -- (1347,433) -- (hu18.east |- 0,433);
\draw[lk,<->] (hu25.north -| 1058,0) -- (1058,545) -- (1082,545) -- (hu19.south -| 1082,0);
\draw[ld,->] (hu24.east |- 0,623) -- (hu25.west |- 0,623);
\draw[ld,->] (725,623) -- (725,428) -- (hu16.west |- 0,428);
\draw[ld,->] (hu28.north -| 842,0) -- (842,595) -- (782,595) -- (hu16.south -| 782,0);
\draw[ld,->] (hu25.east |- 0,622) -- (hu26.west |- 0,622);
\draw[lk,->] (hu26.south -| 1235,0) -- (hu29.north -| 1235,0);
\draw[lk,->] (hu28.east |- 0,796) -- (930,796) -- (930,722) -- (hu27.west |- 0,722);
\draw[lk,<->] (hu24.west |- 0,622) -- (465,622) -- (465,577) -- (hu23.east |- 0,577);
\draw[lk,->] (hu23.west |- 0,577) -- (240,577) -- (240,540) -- (hu20.east |- 0,540);
\draw[lk,->] (hu23.west |- 0,577) -- (240,577) -- (240,622) -- (hu21.east |- 0,622);
\draw[lk,->] (hu23.west |- 0,577) -- (240,577) -- (240,722) -- (hu22.east |- 0,722);
\draw[lk,->] (hu30.east |- 0,888) -- (333,888) -- (hu23.south -| 333,0);
\draw[ld,->] (hu31.north -| 140,0) -- (hu30.south -| 140,0);
\draw[lk,<->] (hu24.south -| 625,0) -- (625,780) -- (488,780) -- (hu32.north -| 488,0);
\draw[ld,->] (hu32.south -| 488,0) -- (hu34.north -| 488,0);
\draw[ld,->] (hu34.east |- 0,1068) -- (597,1068) -- (597,1107) -- (hu35.west |- 0,1107);
\draw[lk,->] (hu35.north -| 688,0) -- (688,995) -- (655,995) -- (hu33.south -| 655,0);
\draw[ld,->] (hu35.east |- 0,1107) -- (842,1107) -- (hu28.south -| 842,0);
\nm{246}{302}{1}\nm{423}{267}{2}\nm{568}{292}{3}\nm{697}{302}{4}\nm{527}{415}{5}\nm{812}{205}{10}\nm{116}{267}{6}\nm{116}{397}{7}\nm{718}{483}{8}\nm{800}{517}{9}\nm{226}{537}{11}\nm{220}{622}{12}\nm{220}{708}{13}\nm{260}{880}{14}
\draw[frm] (33,32) rectangle (1450,1170);
\def\pf{}\def\nser{}
\end{scope}

%% ---------- Nykvarn ----------
\pnl{650}{370}{0.17219}{0.16667}
\def\lw{.7pt}\def\nfs{4.8}\def\ncol{numc}\def\nser{\bfseries}
\filldraw[fill=white,frm] (22,17) rectangle (1518,1155);
\path[top color=nytop,bottom color=nybot,draw=link,line width=.4pt] (22,590) rectangle (1518,1155);
\tx[west]{55}{70}{8}{\textbf{Nykvarn}}
\tx[west]{55}{1128}{6.3}{\textcolor{black!80!green}{Södertälje}}
\bx{dgb}{ny01}{72}{178}{254}{276}{2.7}{\textbf{Webb-GIS}\\Internt inkl\\fastighetsdata\\GeoVIS}
\bx{dgb}{ny02}{216}{320}{363}{379}{2.9}{\textbf{Handhållet}\\GIS - ArcPad}
\bx{dgb}{ny03}{417}{300}{601}{398}{4.2}{\textbf{Tung GIS-}\\\textbf{klient}\\\textbf{ArcView}}
\bx{dgb}{ny04}{624}{296}{806}{393}{2.8}{\textbf{Planeringsverktyg}\\FOCUS/AutoCAD}
\bx{dgb}{ny05}{828}{296}{1010}{393}{4.2}{\textbf{TEKIS}\\\textbf{LV/LTF/GATA}}
\bx{dgb}{ny06}{1080}{296}{1263}{393}{4.2}{\textbf{VA-system}\\\textbf{TEKIS VABAS}}
\bx{dgb}{ny07}{1329}{97}{1510}{191}{2.9}{\textbf{Ärendehantering}\\inkl bygglov\\LEX}
\bx{dgb}{ny08}{72}{675}{254}{773}{3.1}{\textbf{Webb-GIS}\\Internt Geovis\\(DP/WebMap)}
\bx{dgb}{ny09}{310}{713}{491}{810}{3.1}{\textbf{Baskarte-klient}\\(DP/Cadaster)}
\bx{dgb}{ny10}{72}{830}{254}{927}{3.1}{\textbf{WMS-motor}}
\bx{bbx}{ny11}{854}{178}{1010}{262}{5.6}{\textcolor{blue!45!black}{\textbf{Fildata}}}
\def\cytx{white}
\cy{p}{ny12}{437}{38}{582}{160}{3}{Artportalen\\(Miljö)}
\cy{r}{ny13}{1357}{251}{1482}{367}{3.2}{\textbf{LEX}\\\textbf{fastighets}\\\textbf{data}}
\def\cytx{black!80}
\cy{p}{ny14}{1346}{441}{1492}{563}{2.8}{Lantmäteriets\\Fastighets-\\information\\FF}
\def\cytx{white}
\cy{r}{ny15}{1109}{460}{1234}{575}{3.6}{\textbf{VABAS}\\(Oracle)}
\cy{r}{ny16}{583}{617}{708}{732}{3.1}{FIR\\(TEKIS)}
\cy{r}{ny17}{729}{617}{855}{732}{3.1}{Vägnät\\(TEKIS\\LV/LTF)}
\cy{r}{ny18}{288}{881}{510}{1045}{5.5}{\textbf{Geodatabas}}
\cy{p}{ny19}{574}{1000}{718}{1122}{3.3}{Arken}
\def\cytx{black!80}
\draw[lk,->] (ny12.south -| 509,0) -- (ny03.north -| 509,0);
\draw[ld,->] (509,220) -- (ny11.west |- 0,220);
\draw[ld,->] (715,220) -- (ny04.north -| 715,0);
\draw[lk,->] (ny08.north -| 164,0) -- (ny01.south -| 164,0);
\draw[ld,<->] (ny02.east |- 0,350) -- (ny03.west |- 0,350);
\draw[ld,->] (ny01.west |- 0,227) -- (43,227) -- (43,528) -- (715,528) -- (ny04.south -| 715,0);
\draw[ld,->] (509,528) -- (ny03.south -| 509,0);
\draw[ld,->] (ny16.north -| 660,0) .. controls (560,560) and (510,480) .. (ny03.south -| 509,0);
\draw[ld,->] (ny17.north -| 785,0) .. controls (740,560) and (715,480) .. (ny04.south -| 715,0);
\draw[lk,<->] (ny17.north -| 792,0) -- (792,503) -- (918,503) -- (ny05.south -| 918,0);
\draw[ld,->] (ny17.north -| 935,0) .. controls (950,500) and (1000,370) .. (ny06.west |- 0,345);
\draw[ld] (ny17.north east) .. controls (900,680) and (930,720) .. (935,760);
\draw[lk,<->] (ny06.south -| 1171,0) -- (ny15.north -| 1171,0);
\draw[lk,->] (ny13.north -| 1420,0) -- (ny07.south -| 1420,0);
\draw[ld,->] (ny14.north -| 1420,0) -- (ny13.south -| 1420,0);
\draw[lk,->] (1423,760) -- (1423,672) -- (ny17.east |- 0,672);
\draw[lk,->] (ny10.north -| 164,0) -- (ny08.south -| 164,0);
\draw[lk,->] (548,1085) -- (164,1085) -- (ny10.south -| 164,0);
\draw[lk] (ny16.west |- 0,672) -- (548,672) -- (548,1085);
\draw[lk,->] (400,1085) -- (ny18.south -| 400,0);
\draw[lk,<->] (ny18.north -| 400,0) -- (ny09.south -| 400,0);
\draw[lk,->] (ny19.north -| 646,0) -- (ny16.south -| 646,0);
\draw[lk] (ny09.east |- 0,763) -- (820,763);
\draw[lk] (ny18.east |- 0,963) .. controls (700,960) and (790,850) .. (815,720);
\draw[lk] (ny18.east |- 0,963) .. controls (640,940) and (660,900) .. (820,895);
\nm{486}{206}{8}\nm{800}{187}{10}\nm{684}{257}{9}\nm{133}{328}{1}\nm{338}{506}{11}\nm{633}{505}{12}\nm{549}{561}{2}\nm{752}{515}{3}\nm{832}{479}{4}\nm{903}{556}{5a}\nm{1040}{427}{5b}\nm{1198}{434}{6}
\draw[frm] (22,17) rectangle (1518,1155);
\def\nser{}
\end{scope}

%% ---------- SALEM ----------
\pnl{1050}{0}{0.21044}{0.16667}
\def\lw{.6pt}\def\nfs{5}\def\ncol{numc}
\filldraw[fill=white,frm] (35,32) rectangle (1250,1170);
\tx[west]{52}{72}{8.2}{\textbf{SALEM}}
\tx[west]{52}{136}{4}{\textcolor{black!70}{\itshape 2010-04-14 UB}}
\bx{gbx}{sa01}{96}{160}{218}{248}{4}{\textbf{Tekis-}\\\textbf{LV}}
\bx{gbx}{sa02}{96}{266}{218}{355}{4}{\textbf{Tekis-LTF}}
\bx{gbx}{sa03}{270}{195}{392}{316}{4}{\textbf{Tekis-}\\\textbf{GATA}}
\bx{gbx}{sa04}{458}{214}{617}{332}{5}{\textbf{MapInfo}\\\textbf{10.0}}
\bx{gbx}{sa05}{598}{80}{769}{176}{5}{\textbf{MI RunTime}\\\textbf{Manipulation}}
\bx{gbx}{sa06}{756}{214}{916}{332}{5}{\textbf{SolenPRO}}
\bx{gbx}{sa07}{756}{373}{916}{490}{5}{\textbf{SolenX}}
\cy{r}{sa08}{980}{266}{1110}{412}{5}{\textbf{Arken}}
\cy{r}{sa09}{271}{373}{378}{516}{4}{\textbf{Gatureg.}\\\textbf{Oracle}}
\cy{r}{sa10}{420}{462}{655}{860}{6.4}{}
\tx{537}{637}{6.4}{AutoKa\\Digitalt kartarkiv}
\bx{gbx}{sa11}{115}{566}{286}{712}{6.5}{AutoCad\\Focus}
\bx{cbx}{sa12}{173}{788}{314}{918}{3.4}{MobileMatrix\\GPS\\Leica totalstn}
\bx{gbx}{sa13}{691}{637}{802}{700}{2.8}{\raisebox{-3pt}{Solenfront}}
\bx{gbx}{sa14}{827}{637}{938}{700}{2.8}{\raisebox{-3pt}{Solenfront}}
\bx{gbx}{sa15}{970}{637}{1080}{700}{2.8}{Bygg \&}
\bx{gbx}{sa16}{1114}{632}{1226}{700}{2.8}{Väglitar}
\draw[ld,->] (sa03.west |- 0,214) -- (sa01.east |- 0,214);
\draw[ld,->] (sa03.west |- 0,281) -- (sa02.east |- 0,281);
\draw[ld,->] (sa04.west |- 0,281) -- (sa03.east |- 0,281);
\draw[lk,->] (sa09.north -| 329,0) -- (sa03.south -| 329,0);
\draw[ld,->] (sa04.east |- 0,269) -- (sa06.west |- 0,269);
\draw[ld,->] (sa05.south -| 681,0) -- (681,430) -- (sa07.west |- 0,430);
\draw[ld,<->] (sa04.south -| 537,0) -- (sa10.north -| 537,0);
\draw[lk,->] (sa08.west |- 0,300) -- (sa06.east |- 0,300);
\draw[lk,->] (sa08.west |- 0,390) -- (sa07.east |- 0,390);
\draw[ld,->] (sa06.east |- 0,245) -- (1148,245) -- (1148,565);
\draw[ld,->] (sa07.east |- 0,430) -- (1148,430);
\draw[ld,->] (1148,568) -- (752,568) -- (sa13.north -| 752,0);
\draw[ld,->] (878,568) -- (sa14.north -| 878,0);
\draw[ld,->] (1022,568) -- (sa15.north -| 1022,0);
\draw[ld,->] (1148,568) -- (1175,568) -- (sa16.north -| 1175,0);
\draw[ld,->] (sa10.west |- 0,620) -- (350,620) -- (350,638) -- (sa11.east |- 0,638);
\draw[ld,->] (345,790) -- (sa12.east |- 0,790);
\nm{428}{262}{TAB}\nm{712}{288}{TAB}\nm{712}{404}{TAB}\nm{500}{405}{DXF}\nm{358}{595}{DX}\nm{350}{628}{F}\nm{330}{762}{DX}
\path[leg] (38,938) rectangle (500,1170);
\tx{220}{962}{3.5}{\textbf{Teckenförklaring}}
\bx{gbx}{sa17}{65}{990}{133}{1045}{2}{Klient}
\bx{cbx}{sa18}{173}{985}{241}{1042}{2}{Fildata}
\cy{r}{sa19}{57}{1072}{133}{1158}{2}{Databas}
\cy{p}{sa20}{181}{1072}{254}{1158}{2}{Externa\\Databas}
\tx[west]{285}{1035}{2}{Fält-anföring}
\tx[west]{285}{1113}{2}{Databaskoppling}
\draw[frm] (35,32) rectangle (1250,1170);
\end{scope}

%% ---------- Tyresö ----------
\pnl{1190}{220}{0.16667}{0.16667}
\def\lw{.55pt}\def\nfs{4.4}\def\ncol{numc}
\filldraw[fill=white,frm] (15,20) rectangle (1530,1160);
\tx[west]{45}{798}{8}{\textbf{Tyresö}}
\cy{p}{ty01}{163}{47}{283}{155}{5}{Arken\\(LM)}
\bx{gbx}{ty02}{547}{67}{738}{195}{3.3}{\wh{Webb-GIS}\\\wh{Internt}\\Tekis/Vebb\\MapGuide 6}
\bx{gbx}{ty03}{1178}{85}{1376}{191}{3.3}{\wh{Tung GIS-klient}\\ArcView/ArcInfo\\Serverlicens}
\bx{gbx}{ty04}{45}{212}{222}{288}{4.6}{\wh{\textbf{HyperDoc}}}
\bx{gbx}{ty05}{44}{371}{222}{431}{4.6}{\wh{\textbf{ByggReda}}}
\cy{r}{ty06}{398}{262}{537}{383}{3.5}{Tefat\\FIR/KID/\\BYGGNAD}
\cy{r}{ty07}{63}{540}{201}{667}{3.9}{Ärende-\\hantering\\SQL}
\bx{gbx}{ty08}{538}{422}{741}{505}{3.4}{Tekis\\Gata/LV/LTF/Park}
\bx{cbx}{ty09}{757}{362}{926}{454}{3.2}{•Fildata\\•Ortofoton\\•Detaljplaner}
\bx{gbx}{ty10}{1050}{292}{1188}{348}{2.2}{VA-basen}
\bx{gbx}{ty11}{996}{384}{1170}{468}{3.2}{\wh{FME}\\Serverlicens}
\cy{r}{ty12}{605}{578}{743}{660}{3.4}{TekisLV\\Oracle 10}
\bx{gbx}{ty13}{310}{576}{491}{686}{3.8}{\wh{Baskarte-}\\\wh{klient}\\AutoCAD Map\\2005}
\bx{gbx}{ty14}{502}{712}{658}{771}{3.3}{\wh{CadClient 8.2}\\MapStore}
\bx{gbx}{ty15}{331}{782}{469}{870}{3.6}{\wh{Geodesi}\\3DWin}
\cyb{r}{781}{668}{1021}{878}
\node[minimum width=\wA pt,minimum height=\hA pt,inner sep=0pt] (ty16) at (\cxA,\cyA) {};
\tx{895}{690}{3.8}{ArcSDE}
\tx{900}{763}{6.2}{\wh{Geodatabas}}
\tx{900}{807}{5}{Oracle 10}
\bx{gbx}{ty17}{1355}{485}{1519}{576}{3}{\wh{Webb\_GIS}\\\wh{Extern}\\\wh{•Editor}}
\bx{gbx}{ty18}{1389}{650}{1519}{695}{2.2}{PG Admin\\Extern}
\bx{gbx}{ty19}{1201}{684}{1332}{728}{2.1}{GeoServer\\Fastsvolen}
\cy{r}{ty20}{1405}{827}{1519}{913}{2.4}{PostGIS\\SQL}
\bx{cbx}{ty21}{1118}{806}{1287}{897}{3.2}{•Fildata\\•Ortofoton\\•Detaljplaner}
\bx{gbx}{ty22}{1156}{928}{1314}{985}{2.2}{Leverantörsfiler}
\path[leg] (15,920) rectangle (485,1157);
\tx{247}{943}{3.5}{\textbf{Teckenförklaring}}
\bx{gbx}{ty23}{52}{972}{137}{1025}{2}{Klient}
\bx{cbx}{ty24}{187}{972}{274}{1025}{2}{Fildata}
\cy{r}{ty25}{44}{1050}{137}{1137}{2}{Databas}
\cy{p}{ty26}{189}{1050}{281}{1137}{2}{Externa\\Databas}
\draw[lp] (345,998) -- (410,998);\tx{368}{1015}{2}{Fält-anföring}
\draw[lk] (345,1077) -- (412,1077);\tx{385}{1095}{2}{Databaskoppling}
\draw[black,line width=.3pt,dash pattern=on 1pt off 1pt] (485,945) -- (985,945) -- (985,1157);
\tx{733}{969}{2.6}{Program som hanterar fildata utan koppling till databaser}
\bx{gbx}{ty27}{500}{1014}{637}{1070}{2.1}{BALK\\(LINA)}
\bx{gbx}{ty28}{665}{1014}{803}{1068}{2.1}{AutoCAD\\Projektering}
\bx{gbx}{ty29}{832}{1014}{969}{1072}{2.1}{3D-program}
\bx{gbx}{ty30}{500}{1095}{637}{1150}{2.1}{BI-TIF}
\bx{gbx}{ty31}{660}{1095}{797}{1150}{2.1}{SketchUp}
\bx{gbx}{ty32}{832}{1095}{969}{1150}{2.1}{Fotometry}
\draw[lk,arrows={Circle[length=1.8pt]->}] (ty01.east |- 0,93) -- (415,93) -- (415,130) -- (ty02.west |- 0,130);
\draw[lk,cc] (ty05.east |- 0,400) -- (310,400) -- (310,322) -- (ty06.west |- 0,322);
\draw[lk,cc] (ty05.north -| 132,0) -- (ty04.south -| 132,0);
\draw[lk,cc] (ty07.north -| 132,0) -- (ty05.south -| 132,0);
\draw[lk,cc] (ty06.east |- 0,322) -- (ty02.south -| 640,0);
\draw[lk,cc] (ty02.south -| 661,0) -- (ty08.north -| 661,0);
\draw[lp,cc] (ty02.east |- 0,143) -- (842,143) -- (ty09.north -| 842,0);
\draw[lp,->] (ty09.north -| 880,0) -- (ty03.west |- 0,140);
\draw[lp,cc] (ty09.south -| 843,0) -- (ty16.north -| 843,0);
\draw[lp,cc] (ty09.east |- 0,425) -- (ty11.west |- 0,425);
\draw[lk,cc] (ty16.north -| 938,0) -- (ty11.south -| 1082,0);
\draw[lp,cc] (900,465) .. controls (905,560) and (1110,570) .. (ty21.north west);
\draw[lk,<->] (ty12.north -| 675,0) -- (ty08.south -| 675,0);
\draw[lk,<->] (ty13.east |- 0,630) -- (580,630) -- (ty14.north -| 580,0);
\draw[lk,<->] (ty14.east |- 0,742) -- (718,742) -- (718,773) -- (ty16.west |- 0,773);
\draw[lp,cc] (ty13.south -| 400,0) -- (ty15.north -| 400,0);
\draw[lk,<->] (ty15.east |- 0,827) -- (625,827) -- (625,907) -- (901,907) -- (ty16.south -| 901,0);
\draw[lk,<->] (ty16.north -| 988,0) -- (988,632) -- (1231,632) -- (ty03.south -| 1231,0);
\draw[lk,<->] (ty19.north -| 1272,0) -- (ty03.south -| 1277,0);
\draw[lk,->] (980,945) -- (980,905) -- (953,905) -- (ty16.south -| 953,0);
\draw[lp,arrows={Circle[length=1.8pt]->}] (ty16.east |- 0,773) -- (1089,773) -- (1089,945) -- (1140,945);
\draw[lk,cc] (ty21.east |- 0,870) -- (ty20.west |- 0,870);
\draw[lk,cc] (ty20.north -| 1459,0) -- (ty18.south -| 1459,0);
\draw[lk,<->] (ty19.east |- 0,738) -- (ty20.west |- 0,820);
\draw[lk,<->] (ty19.north east) -- (ty17.south -| 1405,0);
\nm{445}{118}{8}\nm{326}{362}{6}\nm{115}{335}{5}\nm{115}{490}{4}\nm{577}{245}{7}\nm{676}{313}{12}\nm{822}{285}{10}\nm{1013}{242}{16}\nm{830}{537}{9}\nm{960}{412}{14}\nm{997}{537}{13}\nm{1100}{716}{17}\nm{655}{537}{11}\nm{544}{618}{2}\nm{690}{726}{2}\nm{381}{737}{3}\nm{715}{886}{1}\nm{1147}{618}{15}\nm{1294}{425}{22}\nm{1112}{936}{23}\nm{1335}{853}{18}\nm{1477}{760}{19}\nm{1385}{770}{20}\nm{1342}{618}{21}
\draw[frm] (15,20) rectangle (1530,1160);
\end{scope}

%% ---------- Södertälje ----------
\pnl{920}{600}{0.16667}{0.16667}
\def\lw{.6pt}\def\nfs{4.6}\def\ncol{black!85}\def\nser{\bfseries}
\filldraw[fill=white,frm] (10,20) rectangle (1533,1160);
\tx[west]{30}{370}{7.6}{\textbf{Södertälje}}
\bx{gbx}{so01}{40}{66}{227}{163}{3.4}{Webb-GIS\\Internt\\(DP/WebMap)}
\bx{gbx}{so02}{250}{66}{428}{163}{3.4}{Webb-GIS\\Externt\\(DP/WebMap)}
\bx{gbx}{so03}{445}{66}{655}{166}{3.4}{Lätt baskarteklient\\Internt (Geovis)}
\bx{gbx}{so04}{683}{66}{856}{172}{3.2}{Planmodul\\(DP/Cadaster\\Planmodul)}
\bx{gbx}{so05}{896}{80}{1023}{181}{3.4}{AutoCAD}
\bx{gbx}{so06}{1041}{80}{1263}{180}{3.4}{Geodesi och\\terrängmodellering\\(TopoCad)}
\bx{gbx}{so07}{1290}{80}{1487}{163}{3.4}{Tung GIS-klient\\(MapInfo)}
\bx{gbx}{so08}{246}{250}{431}{322}{3.2}{WMS-motor}
\bx{bbx}{so09}{1207}{243}{1442}{350}{3.3}{Fildata\\(tab, tiff, shape ...)}
\bx{gbx}{so10}{954}{382}{1218}{465}{3.3}{Baskartelklient\\(DP/Cadaster)}
\cy{r}{so11}{110}{434}{263}{585}{3.3}{Ärende-\\hantering\\(Public360)}
\cy{r}{so12}{533}{403}{800}{635}{3.4}{Geodatabas}
\cy{p}{so13}{1369}{490}{1498}{600}{3.2}{Vägnät\\(NVDB)}
\cy{r}{so14}{1367}{672}{1500}{784}{3.2}{Vägnät\\(TEKIS\\LV/LTF)}
\bx{gbx}{so15}{996}{617}{1177}{678}{3.2}{FME}
\cy{r}{so16}{124}{693}{249}{824}{3.2}{KID\\(TEKIS)}
\cy{r}{so17}{533}{733}{660}{848}{3.2}{FIR\\(TEKIS)}
\cy{p}{so18}{1151}{773}{1318}{962}{3.3}{Lantmäteriet\\(Bryggan\\ABT)}
\cy{p}{so19}{515}{908}{678}{1050}{3.5}{Arken}
\cy{p}{so20}{837}{937}{1001}{1080}{3.3}{BALK\\(LINA)}
\path[leg] (14,920) rectangle (479,1157);
\tx{240}{945}{3.5}{\textbf{Teckenförklaring}}
\bx{gbx}{so21}{45}{972}{130}{1027}{2}{Klient}
\bx{cbx}{so22}{182}{972}{266}{1027}{2}{Fildata}
\cy{r}{so23}{36}{1052}{130}{1140}{2}{Interna\\Databas}
\cy{p}{so24}{182}{1052}{272}{1140}{2}{Externa\\Databas}
\draw[lp] (320,996) -- (407,996);\tx{362}{1016}{2}{Fält-anföring}
\draw[lk] (322,1073) -- (410,1073);\tx{378}{1096}{2}{Databaskoppling}
\draw[lk,->] (so08.west |- 0,287) -- (133,287) -- (so01.south -| 133,0);
\draw[lk,->] (so08.north -| 338,0) -- (so02.south -| 338,0);
\draw[lk,->] (so12.west |- 0,520) -- (481,520) -- (481,285) -- (so08.east |- 0,285);
\draw[lk,->] (so12.north -| 666,0) -- (666,285) -- (549,285) -- (so03.south -| 549,0);
\draw[lk,->] (838,520) -- (838,285) -- (769,285) -- (so04.south -| 769,0);
\draw[lk,<->] (so12.east |- 0,520) -- (877,520) -- (877,423) -- (so10.west |- 0,423);
\draw[lk,->] (so08.south -| 338,0) -- (338,510) -- (so11.east |- 0,510);
\draw[lk,->] (so16.north -| 186,0) -- (so11.south -| 186,0);
\draw[lk,->] (so17.north -| 595,0) -- (595,685) -- (666,685) -- (so12.south -| 666,0);
\draw[lk,->] (so19.north -| 595,0) -- (so17.south -| 595,0);
\draw[lk,->] (822,547) .. controls (900,550) and (900,640) .. (so15.west |- 0,647);
\draw[lk,->] (so16.east |- 0,758) -- (533,750) -- (so17.east |- 0,733) .. controls (800,715) and (790,650) .. (so15.west |- 0,647);
\draw[lk,->] (so17.east |- 0,792) .. controls (830,790) and (800,650) .. (so15.west |- 0,647);
\draw[lk,->] (so14.west |- 0,728) .. controls (1100,725) and (930,720) .. (950,660) -- (so15.west |- 0,647);
\draw[ld,<->] (so10.north -| 1042,0) -- (1042,281) -- (960,281) -- (so05.south -| 960,0);
\draw[ld,<->] (so10.north -| 1065,0) -- (1065,281) -- (1152,281) -- (so06.south -| 1152,0);
\draw[ld,<->] (so10.north -| 1087,0) -- (1087,297) -- (so09.west |- 0,297);
\draw[ld,<->] (so09.north -| 1325,0) -- (1325,204) -- (1388,204) -- (so07.south -| 1388,0);
\draw[ld,->] (so10.east |- 0,423) -- (1433,423) -- (so13.north -| 1433,0);
\draw[lk,->] (so13.south -| 1433,0) -- (so14.north -| 1433,0);
\draw[ld,->] (1235,423) -- (so18.north -| 1235,0);
\draw[ld,->] (so15.east |- 0,647) -- (1325,647) -- (so09.south -| 1325,0);
\draw[ld,->] (so15.south -| 1086,0) -- (1086,868) -- (so18.west |- 0,868);
\nm{150}{204}{1}\nm{357}{200}{2}\nm{465}{265}{3}\nm{569}{203}{4}\nm{790}{212}{19}\nm{919}{403}{5}\nm{295}{537}{17}\nm{211}{620}{18}\nm{735}{677}{15}\nm{622}{885}{16}\nm{965}{628}{11}\nm{976}{215}{6}\nm{1132}{215}{7}\nm{1172}{277}{8}\nm{1407}{198}{9}\nm{1461}{465}{10}\nm{1461}{647}{10}\nm{1262}{750}{13}\nm{1353}{376}{14}\nm{1061}{850}{12}
\draw[frm] (10,20) rectangle (1533,1160);
\end{scope}
\end{tikzpicture}
\end{document}
